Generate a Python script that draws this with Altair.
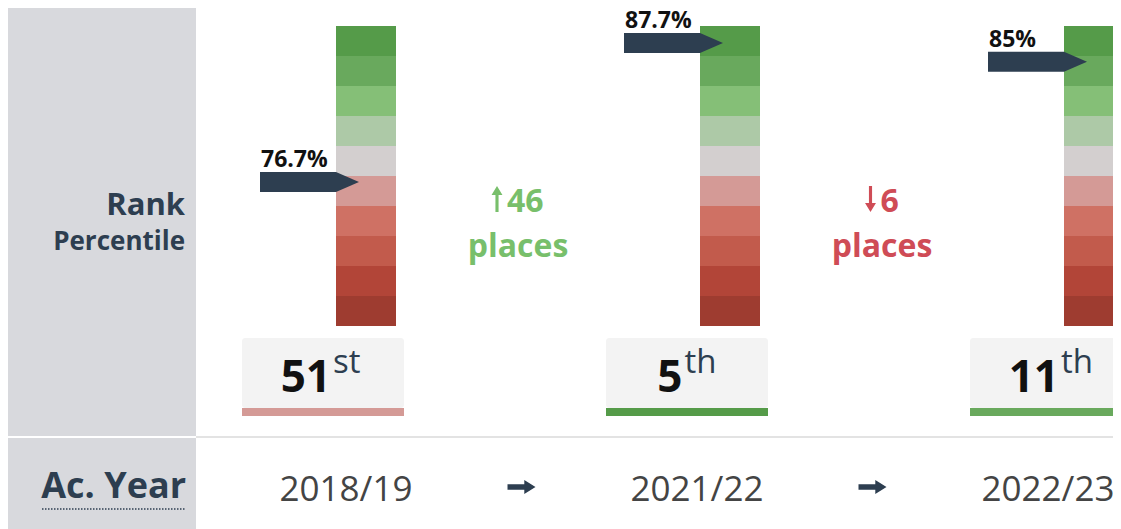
import altair as alt
import pandas as pd

# ---------------- data ----------------
years = ["2018/19", "2021/22", "2022/23"]
ranks = [51, 5, 11]
suffixes = ["st", "th", "th"]
pct_labels = ["76.7%", "87.7%", "85%"]
marker_levels = [4.8, 9.43, 8.81]          # arrow height on the 10-band gauge
band_colors = ["#9e3c30", "#b24538", "#c25b4c", "#cf7164", "#d49a96",
               "#d3cfcf", "#adc9a7", "#85bf77", "#69a95d", "#559b49"]  # bottom -> top
row_labels = ["Rank", "Percentile", "Ac. Year"]

NAVY = "#2d3e50"
GREEN = "#78bf6b"
RED = "#cf4c56"

# ---------------- tables built from the lists ----------------
seg_rows = []
for i, _ in enumerate(years):
    for k, c in enumerate(band_colors):
        seg_rows.append({"i": i, "lo": k, "hi": k + 1, "color": c})
seg_df = pd.DataFrame(seg_rows)

main_df = pd.DataFrame({
    "i": list(range(len(years))),
    "year": years,
    "rank": [str(r) for r in ranks],
    "suffix": suffixes,
    "pct": pct_labels,
    "level": marker_levels,
    "under": [band_colors[int(m)] for m in marker_levels],
    "ndig": [len(str(r)) for r in ranks],
})

chg_rows = []
for i in range(len(ranks) - 1):
    d = ranks[i] - ranks[i + 1]
    chg_rows.append({
        "mid": i + 0.5,
        "num": str(abs(d)),
        "ndig": len(str(abs(d))),
        "dir": "up" if d > 0 else "down",
        "line2": "places",
        "color": GREEN if d > 0 else RED,
    })
chg_df = pd.DataFrame(chg_rows)

one = pd.DataFrame({"a": [0]})

# ---------------- geometry ----------------
W, H = 1105, 521
STEP, X0 = 364, 358          # px between gauges, px of first gauge centre
YSTEP, Y0 = 30, 318          # px per band, px of band 0
x_dom = [-X0 / STEP, (W - X0) / STEP]
y_dom = [(Y0 - H) / YSTEP, Y0 / YSTEP]
YR_STEP, YR_X0 = 351, 338    # year row columns
yr_dom = [-YR_X0 / YR_STEP, (W - YR_X0) / YR_STEP]

xs = alt.Scale(domain=x_dom, nice=False, zero=False)
ys = alt.Scale(domain=y_dom, nice=False, zero=False)
yrs = alt.Scale(domain=yr_dom, nice=False, zero=False)

FONT = "Open Sans"

# ---------------- layers ----------------
panel_top = alt.Chart(one).mark_rect(color="#d8d9dd").encode(
    x=alt.value(0), x2=alt.value(188), y=alt.value(0), y2=alt.value(428))
panel_bot = alt.Chart(one).mark_rect(color="#d8d9dd").encode(
    x=alt.value(0), x2=alt.value(188), y=alt.value(430), y2=alt.value(H))
divider = alt.Chart(one).mark_rule(color="#e3e3e3", strokeWidth=2).encode(
    x=alt.value(188), x2=alt.value(W), y=alt.value(429))

lab_rank = alt.Chart(pd.DataFrame({"t": [row_labels[0]]})).mark_text(
    align="right", baseline="alphabetic", font=FONT, fontSize=31,
    fontWeight="bold", color=NAVY).encode(
    x=alt.value(177), y=alt.value(207), text="t:N")
lab_pct = alt.Chart(pd.DataFrame({"t": [row_labels[1]]})).mark_text(
    align="right", baseline="alphabetic", font=FONT, fontSize=26,
    fontWeight="bold", color=NAVY).encode(
    x=alt.value(177), y=alt.value(242), text="t:N")
lab_year = alt.Chart(pd.DataFrame({"t": [row_labels[2]]})).mark_text(
    align="right", baseline="alphabetic", font=FONT, fontSize=36,
    fontWeight="bold", color=NAVY).encode(
    x=alt.value(178), y=alt.value(490), text="t:N")
dotted = alt.Chart(one).mark_rule(color=NAVY, strokeWidth=1.5,
                                  strokeDash=[1.5, 1.5]).encode(
    x=alt.value(34), x2=alt.value(178), y=alt.value(501))

segments = alt.Chart(seg_df).mark_rect(xOffset=-30, x2Offset=30).encode(
    x=alt.X("i:Q", scale=xs, axis=None), x2="i:Q",
    y=alt.Y("lo:Q", scale=ys, axis=None), y2="hi:Q",
    color=alt.Color("color:N", scale=None))

ARROW = "M -1 -0.202 L 0.535 -0.202 L 1 0 L 0.535 0.202 L -1 0.202 Z"
markers = alt.Chart(main_df).mark_point(
    shape=ARROW, size=99 * 99, filled=True, color=NAVY, opacity=1,
    strokeWidth=0, xOffset=-56.5).encode(
    x=alt.X("i:Q", scale=xs, axis=None),
    y=alt.Y("level:Q", scale=ys, axis=None))

pct_text = alt.Chart(main_df).mark_text(
    align="left", baseline="alphabetic", xOffset=-105, yOffset=-15,
    font=FONT, fontSize=23, fontWeight="bold", color="#111111").encode(
    x=alt.X("i:Q", scale=xs, axis=None),
    y=alt.Y("level:Q", scale=ys, axis=None), text="pct:N")

box = alt.Chart(main_df).mark_rect(
    xOffset=-124, x2Offset=38, cornerRadius=3, color="#f3f3f3").encode(
    x=alt.X("i:Q", scale=xs, axis=None), x2="i:Q",
    y=alt.value(330), y2=alt.value(400))
underline = alt.Chart(main_df).mark_rect(xOffset=-124, x2Offset=38).encode(
    x=alt.X("i:Q", scale=xs, axis=None), x2="i:Q",
    y=alt.value(400), y2=alt.value(408),
    color=alt.Color("under:N", scale=None))

anchor = f"datum.i + (-43 + (datum.ndig * 25 - 34) / 2) / {STEP}"
rank_num = alt.Chart(main_df).transform_calculate(ax=anchor).mark_text(
    align="right", baseline="alphabetic", font=FONT, fontSize=44,
    fontWeight="bold", color="#111111").encode(
    x=alt.X("ax:Q", scale=xs, axis=None), y=alt.value(384), text="rank:N")
rank_suf = alt.Chart(main_df).transform_calculate(ax=anchor).mark_text(
    align="left", baseline="alphabetic", xOffset=2, font=FONT, fontSize=33,
    color=NAVY).encode(
    x=alt.X("ax:Q", scale=xs, axis=None), y=alt.value(365), text="suffix:N")

# change labels: arrow glyph + number, then "places"
gw = "(16 + datum.ndig * 19)"
chg_num = alt.Chart(chg_df).transform_calculate(
    tx=f"datum.mid + (-30 - {gw} / 2 + 16) / {STEP}").mark_text(
    align="left", baseline="alphabetic", font=FONT,
    fontSize=32, fontWeight="bold").encode(
    x=alt.X("tx:Q", scale=xs, axis=None), y=alt.value(204), text="num:N",
    color=alt.Color("color:N", scale=None))
UP = "M -0.12 1 L -0.12 -0.3 L -0.42 -0.3 L 0 -1 L 0.42 -0.3 L 0.12 -0.3 L 0.12 1 Z"
DOWN = "M -0.12 -1 L -0.12 0.3 L -0.42 0.3 L 0 1 L 0.42 0.3 L 0.12 0.3 L 0.12 -1 Z"
def chg_arrow(direction, path):
    return alt.Chart(chg_df).transform_filter(
        alt.datum.dir == direction).transform_calculate(
        axx=f"datum.mid + (-30 - {gw} / 2 + 6) / {STEP}").mark_point(
        shape=path, size=26 * 26, filled=True, opacity=1, strokeWidth=0).encode(
        x=alt.X("axx:Q", scale=xs, axis=None), y=alt.value(191),
        color=alt.Color("color:N", scale=None))
chg_up = chg_arrow("up", UP)
chg_down = chg_arrow("down", DOWN)
chg2 = alt.Chart(chg_df).mark_text(
    align="center", baseline="alphabetic", xOffset=-30, font=FONT,
    fontSize=32, fontWeight="bold").encode(
    x=alt.X("mid:Q", scale=xs, axis=None), y=alt.value(249), text="line2:N",
    color=alt.Color("color:N", scale=None))

year_text = alt.Chart(main_df).mark_text(
    align="center", baseline="alphabetic", font=FONT,
    fontSize=35, color="#444444").encode(
    x=alt.X("i:Q", scale=yrs, axis=None), y=alt.value(493), text="year:N")

YARROW = "M -1 -0.2 L 0.2 -0.2 L 0.2 -0.5 L 1 0 L 0.2 0.5 L 0.2 0.2 L -1 0.2 Z"
year_arrows = alt.Chart(chg_df).mark_point(
    shape=YARROW, size=28 * 28, filled=True, color=NAVY, opacity=1,
    strokeWidth=0).encode(
    x=alt.X("mid:Q", scale=yrs, axis=None), y=alt.value(479))

chart = alt.layer(
    panel_top, panel_bot, divider, lab_rank, lab_pct, lab_year, dotted,
    segments, box, underline, rank_num, rank_suf, markers, pct_text,
    chg_up, chg_down, chg_num, chg2, year_text, year_arrows,
).resolve_scale(x="independent").properties(
    width=W, height=H, padding=0,
    autosize=alt.AutoSizeParams(type="none"),
).configure_view(stroke=None)

chart.save("out.html", embed_options={"renderer": "svg", "actions": False})
